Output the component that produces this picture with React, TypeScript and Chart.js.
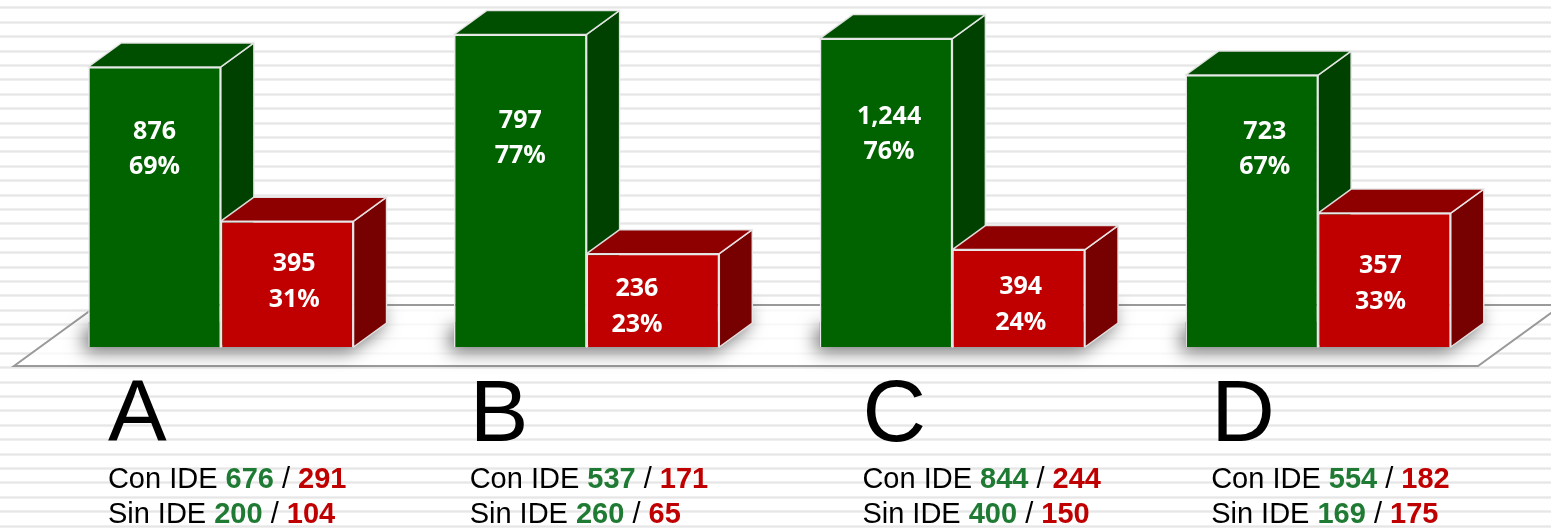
import React, { useEffect, useRef } from "react";
import { Chart, registerables } from "chart.js";

Chart.register(...registerables);

// ---- data ----
const categories = ["A", "B", "C", "D"];
const conPct = [69, 77, 76, 67];
const sinPct = [31, 23, 24, 33];
const conTotal = ["876", "797", "1,244", "723"];
const sinTotal = ["395", "236", "394", "357"];
const conIdeGreen = ["676", "537", "844", "554"];
const conIdeRed = ["291", "171", "244", "182"];
const sinIdeGreen = ["200", "260", "400", "169"];
const sinIdeRed = ["104", "65", "150", "175"];

// ---- layout (positions / styles) ----
const W = 1551;
const H = 529;
const DEPTH_X = 33;
const DEPTH_Y = -24;
const greenLabelMid = [48.7, 51.5, 52.5, 48.8];
const redLabelMid = [16.0, 9.9, 10.3, 15.6];
const greenLabelDx = [0, 0, 3, 13];
const redLabelDx = [7, -16, 2, -4];
const textLeftOffset = [-113, -117, -90, -107];

const GREEN = { front: "#006300", top: "#004f00", side: "#004100" };
const RED = { front: "#c00000", top: "#8e0000", side: "#770000" };
const TXT_GREEN = "#1f7a33";
const TXT_RED = "#c00000";

function poly(ctx: CanvasRenderingContext2D, pts: number[][]) {
  ctx.beginPath();
  ctx.moveTo(pts[0][0], pts[0][1]);
  for (let i = 1; i < pts.length; i++) ctx.lineTo(pts[i][0], pts[i][1]);
  ctx.closePath();
}

const threeDPlugin = {
  id: "threeD",
  beforeDraw(chart: any) {
    const ctx = chart.ctx as CanvasRenderingContext2D;
    ctx.save();
    ctx.fillStyle = "#ffffff";
    ctx.fillRect(0, 0, chart.width, chart.height);
    for (let y = 7.3; y < chart.height + 2; y += 14.4) {
      ctx.fillStyle = "#efefef";
      ctx.fillRect(0, Math.round(y) - 1, chart.width, 3);
      ctx.fillStyle = "#e6e6e6";
      ctx.fillRect(0, Math.round(y), chart.width, 1);
    }
    ctx.restore();
  },
  beforeDatasetsDraw(chart: any) {
    const ctx = chart.ctx as CanvasRenderingContext2D;
    const area = chart.chartArea;
    const bottom = area.bottom;
    // floor
    const frontY = bottom + 19;
    const backY = bottom - 42;
    const slope = 1.375;
    const fl = area.left - 24;
    const fr = area.right - 23;
    const off = (frontY - backY) * slope;
    ctx.save();
    poly(ctx, [
      [fl, frontY],
      [fr, frontY],
      [fr + off, backY],
      [fl + off, backY],
    ]);
    ctx.fillStyle = "rgba(255,255,255,0.75)";
    ctx.fill();
    ctx.strokeStyle = "#9a9a9a";
    ctx.lineWidth = 2;
    ctx.stroke();
    ctx.restore();

    const m0 = chart.getDatasetMeta(0);
    const m1 = chart.getDatasetMeta(1);
    // shadows
    for (let j = 0; j < categories.length; j++) {
      const g = m0.data[j];
      const r = m1.data[j];
      const x0 = g.x - g.width / 2;
      const x1 = r.x + r.width / 2;
      const b = g.base;
      ctx.save();
      ctx.shadowColor = "rgba(0,0,0,0.55)";
      ctx.shadowBlur = 18;
      ctx.shadowOffsetX = -4;
      ctx.shadowOffsetY = 5;
      ctx.fillStyle = "#888888";
      poly(ctx, [
        [x0, b - 25],
        [x1, b - 25],
        [x1 + DEPTH_X, b - 25 + DEPTH_Y],
        [x1 + DEPTH_X, b + DEPTH_Y],
        [x1, b],
        [x0, b],
      ]);
      ctx.fill();
      ctx.restore();
    }
    // 3D faces
    for (let j = 0; j < categories.length; j++) {
      [
        [m0, GREEN],
        [m1, RED],
      ].forEach(([meta, col]: any) => {
        const el = meta.data[j];
        const left = el.x - el.width / 2;
        const right = el.x + el.width / 2;
        const top = el.y;
        const base = el.base;
        ctx.save();
        ctx.lineWidth = 1.5;
        ctx.strokeStyle = "rgba(232,232,232,0.95)";
        ctx.lineJoin = "round";
        poly(ctx, [
          [right, top],
          [right + DEPTH_X, top + DEPTH_Y],
          [right + DEPTH_X, base + DEPTH_Y],
          [right, base],
        ]);
        ctx.fillStyle = col.side;
        ctx.fill();
        ctx.stroke();
        poly(ctx, [
          [left, top],
          [right, top],
          [right + DEPTH_X, top + DEPTH_Y],
          [left + DEPTH_X, top + DEPTH_Y],
        ]);
        ctx.fillStyle = col.top;
        ctx.fill();
        ctx.stroke();
        ctx.restore();
      });
    }
  },
  afterDatasetsDraw(chart: any) {
    const ctx = chart.ctx as CanvasRenderingContext2D;
    const area = chart.chartArea;
    const yScale = chart.scales.y;
    const xScale = chart.scales.x;
    const m0 = chart.getDatasetMeta(0);
    const m1 = chart.getDatasetMeta(1);
    ctx.save();
    ctx.fillStyle = "#ffffff";
    ctx.textAlign = "center";
    ctx.textBaseline = "middle";
    ctx.font = 'bold 25px "Open Sans", "Noto Sans", sans-serif';
    for (let j = 0; j < categories.length; j++) {
      const g = m0.data[j];
      const r = m1.data[j];
      const gy = yScale.getPixelForValue(greenLabelMid[j]);
      ctx.fillText(conTotal[j], g.x + greenLabelDx[j], gy - 17.5);
      ctx.fillText(conPct[j] + "%", g.x + greenLabelDx[j], gy + 17.5);
      const ry = yScale.getPixelForValue(redLabelMid[j]);
      ctx.fillText(sinTotal[j], r.x + redLabelDx[j], ry - 18);
      ctx.fillText(sinPct[j] + "%", r.x + redLabelDx[j], ry + 18);
    }
    ctx.restore();

    // category letters and breakdown text
    const drawSegs = (x: number, y: number, segs: [string, string, boolean][]) => {
      let cx = x;
      segs.forEach(([t, c, bold]) => {
        ctx.font = (bold ? "bold " : "") + '29px "Liberation Sans", Arial, sans-serif';
        ctx.fillStyle = c;
        ctx.fillText(t, cx, y);
        cx += ctx.measureText(t).width;
      });
    };
    ctx.save();
    ctx.textAlign = "left";
    ctx.textBaseline = "alphabetic";
    for (let j = 0; j < categories.length; j++) {
      const x = xScale.getPixelForValue(j) + textLeftOffset[j];
      ctx.font = '88px "Liberation Sans", Arial, sans-serif';
      ctx.fillStyle = "#000000";
      ctx.fillText(categories[j], x, area.bottom + 94);
      drawSegs(x, area.bottom + 141, [
        ["Con IDE ", "#000000", false],
        [conIdeGreen[j], TXT_GREEN, true],
        [" / ", "#000000", false],
        [conIdeRed[j], TXT_RED, true],
      ]);
      drawSegs(x, area.bottom + 176, [
        ["Sin IDE ", "#000000", false],
        [sinIdeGreen[j], TXT_GREEN, true],
        [" / ", "#000000", false],
        [sinIdeRed[j], TXT_RED, true],
      ]);
    }
    ctx.restore();
  },
};

export default function App() {
  const canvasRef = useRef<HTMLCanvasElement | null>(null);
  useEffect(() => {
    const canvas = canvasRef.current;
    if (!canvas) return;
    const chart = new Chart(canvas, {
      type: "bar",
      data: {
        labels: categories,
        datasets: [
          {
            label: "Con",
            data: conPct,
            backgroundColor: GREEN.front,
            borderColor: "rgba(232,232,232,1)",
            borderWidth: 1.5,
            barPercentage: 1,
            categoryPercentage: 0.7254,
          },
          {
            label: "Sin",
            data: sinPct,
            backgroundColor: RED.front,
            borderColor: "rgba(232,232,232,1)",
            borderWidth: 1.5,
            barPercentage: 1,
            categoryPercentage: 0.7254,
          },
        ],
      },
      options: {
        responsive: false,
        animation: false,
        devicePixelRatio: 1,
        layout: { padding: { top: 2, bottom: 182, left: 38, right: 50 } },
        plugins: { legend: { display: false }, tooltip: { enabled: false } },
        scales: {
          x: { display: false },
          y: { display: false, min: 0, max: 85 },
        },
      },
      plugins: [threeDPlugin],
    });
    return () => chart.destroy();
  }, []);
  return (
    <div style={{ position: "fixed", left: 0, top: 0, width: W, height: H, background: "#fff" }}>
      <canvas ref={canvasRef} width={W} height={H} style={{ display: "block" }} />
    </div>
  );
}
